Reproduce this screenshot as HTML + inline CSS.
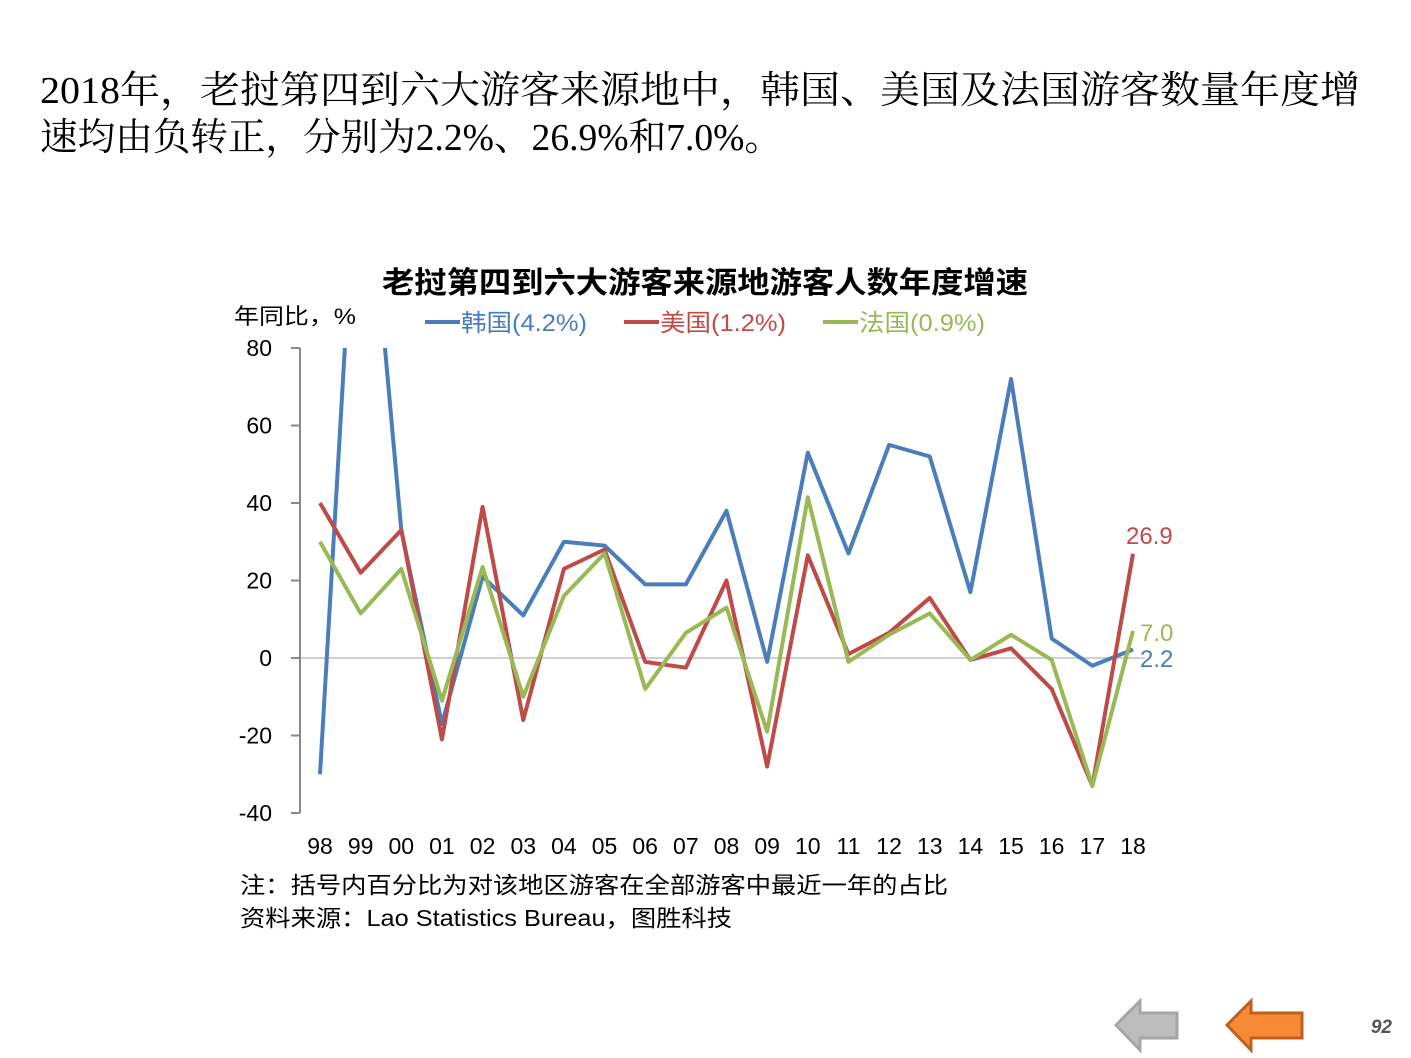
<!DOCTYPE html>
<html><head><meta charset="utf-8"><style>
html,body{margin:0;padding:0;background:#fff;}
svg{display:block;}
</style></head><body>
<svg id="s" width="1411" height="1058" xmlns="http://www.w3.org/2000/svg">
<text x="40" y="103" font-family="Liberation Serif, 'Noto Serif CJK SC', serif" font-size="38" textLength="1320" lengthAdjust="spacingAndGlyphs">2018年，老挝第四到六大游客来源地中，韩国、美国及法国游客数量年度增</text>
<text x="40" y="150" font-family="Liberation Serif, 'Noto Serif CJK SC', serif" font-size="38" textLength="742" lengthAdjust="spacingAndGlyphs">速均由负转正，分别为2.2%、26.9%和7.0%。</text>
<text x="705" y="293" text-anchor="middle" font-family="Liberation Sans, 'Noto Sans CJK SC', sans-serif" font-weight="bold" font-size="30" textLength="646" lengthAdjust="spacingAndGlyphs">老挝第四到六大游客来源地游客人数年度增速</text>
<text x="234" y="324" font-family="Liberation Sans, 'Noto Sans CJK SC', sans-serif" font-size="22" textLength="122" lengthAdjust="spacingAndGlyphs">年同比，%</text>
<g font-family="Liberation Sans, 'Noto Sans CJK SC', sans-serif" font-size="24">
<line x1="425" y1="322" x2="460" y2="322" stroke="#4a7ebb" stroke-width="4"/><text x="461" y="331" fill="#4a7ebb" textLength="126" lengthAdjust="spacingAndGlyphs">韩国(4.2%)</text>
<line x1="624" y1="322" x2="659" y2="322" stroke="#be4b48" stroke-width="4"/><text x="660" y="331" fill="#be4b48" textLength="126" lengthAdjust="spacingAndGlyphs">美国(1.2%)</text>
<line x1="823" y1="322" x2="858" y2="322" stroke="#98b954" stroke-width="4"/><text x="859" y="331" fill="#98b954" textLength="126" lengthAdjust="spacingAndGlyphs">法国(0.9%)</text>
</g>
<line x1="300" y1="658" x2="1145" y2="658" stroke="#d0d0d0" stroke-width="2"/>
<g id="ax" stroke="#888" stroke-width="2"></g>
<g id="yl" font-family="Liberation Sans, sans-serif" font-size="23" text-anchor="end"></g>
<g id="xl" font-family="Liberation Sans, sans-serif" font-size="23" text-anchor="middle"></g>
<clipPath id="c"><rect x="290" y="348" width="900" height="500"/></clipPath>
<g id="ln" clip-path="url(#c)" fill="none" stroke-width="4" stroke-linejoin="round"></g>
<g font-family="Liberation Sans, sans-serif" font-size="24">
<text x="1126" y="544" fill="#be4b48">26.9</text>
<text x="1140" y="641" fill="#98b954">7.0</text>
<text x="1140" y="667" fill="#4a7ebb">2.2</text>
</g>
<g font-family="Liberation Sans, 'Noto Sans CJK SC', sans-serif" font-size="23">
<text x="240" y="893" textLength="708" lengthAdjust="spacingAndGlyphs">注：括号内百分比为对该地区游客在全部游客中最近一年的占比</text>
<text x="240" y="926" textLength="492" lengthAdjust="spacingAndGlyphs">资料来源：Lao Statistics Bureau，图胜科技</text>
</g>
<polygon points="1116,1025 1140,1001 1140,1013 1177,1013 1177,1038 1140,1038 1140,1050" fill="#bdbdbd" stroke="#a6a6a6" stroke-width="3"/>
<polygon points="1227,1025 1251,1001 1251,1013 1302,1013 1302,1038 1251,1038 1251,1050" fill="#f78a36" stroke="#c0601f" stroke-width="3"/>
<text x="1392" y="1033" text-anchor="end" font-family="Liberation Sans, sans-serif" font-size="19" font-weight="bold" font-style="italic" fill="#555">92</text>
</svg>
<script>
var NS="http://www.w3.org/2000/svg";
function Y(v){return 658-3.875*v;}
function X(i){return 320+i*40.65;}
function el(p,t,a,txt){var e=document.createElementNS(NS,t);for(var k in a)e.setAttribute(k,a[k]);if(txt!=null)e.textContent=txt;document.getElementById(p).appendChild(e);}
el("ax","line",{x1:300,y1:348,x2:300,y2:813});
for(var v=-40;v<=80;v+=20){el("ax","line",{x1:291,y1:Y(v),x2:300,y2:Y(v)});el("yl","text",{x:272,y:Y(v)+8},String(v));}
var yrs=["98","99","00","01","02","03","04","05","06","07","08","09","10","11","12","13","14","15","16","17","18"];
yrs.forEach(function(y,i){el("xl","text",{x:X(i),y:854},y);});
var K=[-30,150,33,-17,21,11,30,29,19,19,38,-1,53,27,55,52,17,72,5,-2,2.2];
var U=[40,22,33,-21,39,-16,23,28,-1,-2.5,20,-28,26.5,1,6.5,15.5,-0.5,2.5,-8,-33,26.9];
var F=[30,11.5,23,-11,23.5,-10,16,27,-8,6.5,13,-19,41.5,-1,6,11.5,-0.5,6,-0.5,-33,7.0];
function pl(d,c){el("ln","polyline",{points:d.map(function(v,i){return X(i)+","+Y(v);}).join(" "),stroke:c});}
pl(K,"#4a7ebb");pl(U,"#be4b48");pl(F,"#98b954");
</script>
</body></html>
